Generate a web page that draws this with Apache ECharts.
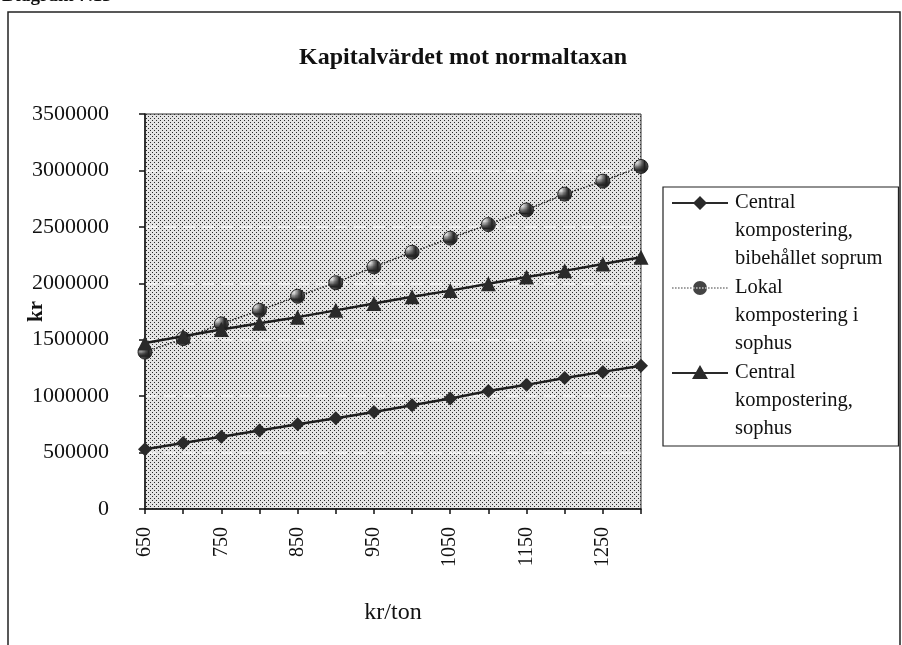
<!DOCTYPE html>
<html>
<head>
<meta charset="utf-8">
<script src="https://cdn.jsdelivr.net/npm/echarts@6/dist/echarts.min.js"></script>
<style>
  html, body { margin: 0; padding: 0; background: #fff; }
  #chart { width: 902px; height: 645px; }
</style>
</head>
<body>
<div id="chart"></div>
<script>
// kr/ton
var categories = ['650', '700', '750', '800', '850', '900', '950', '1000', '1050', '1100', '1150', '1200', '1250', '1300'];
// Central kompostering, bibehållet soprum
var centralSoprum = [530000, 585000, 640000, 695000, 750000, 805000, 860000, 920000, 980000, 1045000, 1100000, 1160000, 1215000, 1270000];
// Lokal kompostering i sophus
var lokalSophus = [1390000, 1510000, 1640000, 1760000, 1885000, 2005000, 2145000, 2275000, 2400000, 2520000, 2650000, 2790000, 2905000, 3035000];
// Central kompostering, sophus
var centralSophus = [1470000, 1530000, 1590000, 1645000, 1700000, 1760000, 1820000, 1880000, 1935000, 1995000, 2055000, 2110000, 2170000, 2230000];

var seriesNames = [
	'Central\nkompostering,\nbibehållet soprum',
	'Lokal\nkompostering i\nsophus',
	'Central\nkompostering,\nsophus'
];

var serif = '"Liberation Serif", "DejaVu Serif", serif';

// dotted halftone for the plot area
function makeDots() {
	var c = document.createElement('canvas');
	c.width = 4;
	c.height = 4;
	var ctx = c.getContext('2d');
	ctx.fillStyle = '#e4e4e4';
	ctx.fillRect(0, 0, 4, 4);
	ctx.fillStyle = '#2a2a2a';
	ctx.fillRect(0, 0, 1, 1);
	ctx.fillRect(2, 2, 1, 1);
	return c;
}

// cross hatch for the round markers
function makeHatch() {
	var c = document.createElement('canvas');
	c.width = 3;
	c.height = 3;
	var ctx = c.getContext('2d');
	ctx.fillStyle = '#d8d8d8';
	ctx.fillRect(0, 0, 3, 3);
	ctx.fillStyle = '#222';
	ctx.fillRect(0, 0, 3, 1);
	ctx.fillRect(0, 0, 1, 3);
	return c;
}

// legend icons: line + marker sit on the first text line (box 56 x 84)
var corners = 'M0 0 L0 0 M56 84 L56 84 ';
var solidLine = 'M0 13 H56 V15 H0 Z ';
var dotLine = '';
for (var d = 0; d < 56; d += 3) {
	dotLine += 'M' + d + ' 13.4 H' + (d + 1.6) + ' V14.6 H' + d + ' Z ';
}
var iconDiamond = 'path://' + corners + solidLine + 'M28 7 L35 14 L28 21 L21 14 Z';
var iconCircle = 'path://' + corners + dotLine + 'M21 14 A7 7 0 1 0 35 14 A7 7 0 1 0 21 14 Z';
var iconTriangle = 'path://' + corners + solidLine + 'M28 6 L36 20 L20 20 Z';

var hatch = { image: makeHatch(), repeat: 'repeat' };

var chart = echarts.init(document.getElementById('chart'));

var option = {
	backgroundColor: '#fff',
	animation: false,
	textStyle: {
		fontFamily: serif,
		color: '#111'
	},
	title: {
		text: 'Kapitalvärdet mot normaltaxan',
		left: 294,
		top: 41,
		textStyle: {
			fontFamily: serif,
			fontSize: 24,
			fontWeight: 'bold',
			color: '#111'
		}
	},
	graphic: [{
		type: 'text',
		left: 2,
		top: -13,
		style: {
			text: 'Diagram 7.13',
			font: 'bold 19px ' + serif,
			fill: '#111'
		}
	}, {
		type: 'rect',
		shape: { x: 8, y: 12, width: 892, height: 700 },
		style: { fill: 'none', stroke: '#222', lineWidth: 1.5 },
		z: -1
	}],
	legend: {
		orient: 'vertical',
		left: 663,
		top: 187,
		padding: [2, 16, 3, 9],
		borderColor: '#222',
		borderWidth: 1.2,
		backgroundColor: '#fff',
		itemWidth: 56,
		itemHeight: 84,
		itemGap: 1,
		selectedMode: false,
		textStyle: {
			fontFamily: serif,
			fontSize: 20.5,
			lineHeight: 28,
			color: '#111',
			padding: [0, 0, 0, 2]
		},
		data: [
			{ name: seriesNames[0], icon: iconDiamond, itemStyle: { borderWidth: 0 } },
			{ name: seriesNames[1], icon: iconCircle, itemStyle: { color: '#444', borderWidth: 0 } },
			{ name: seriesNames[2], icon: iconTriangle, itemStyle: { borderWidth: 0 } }
		]
	},
	grid: {
		left: 145,
		top: 114,
		right: 261,
		bottom: 136,
		show: true,
		backgroundColor: { image: makeDots(), repeat: 'repeat' },
		borderColor: '#333',
		borderWidth: 1
	},
	xAxis: {
		type: 'category',
		data: categories,
		boundaryGap: false,
		name: 'kr/ton',
		nameLocation: 'middle',
		nameGap: 92,
		nameTextStyle: {
			fontFamily: serif,
			fontSize: 24,
			color: '#111'
		},
		axisLine: { lineStyle: { color: '#111', width: 1.5 } },
		axisTick: {
			interval: 0,
			length: 5,
			lineStyle: { color: '#111', width: 1.5 }
		},
		axisLabel: {
			interval: 1,
			rotate: 90,
			margin: 18,
			fontFamily: serif,
			fontSize: 20,
			color: '#111'
		},
		splitLine: { show: false }
	},
	yAxis: {
		type: 'value',
		min: 0,
		max: 3500000,
		interval: 500000,
		name: 'kr',
		nameLocation: 'middle',
		nameRotate: 90,
		nameGap: 98,
		nameMoveOverlap: false,
		nameTextStyle: {
			fontFamily: serif,
			fontSize: 21,
			fontWeight: 'bold',
			color: '#111'
		},
		axisLine: { show: true, lineStyle: { color: '#111', width: 1.5 } },
		axisTick: {
			show: true,
			length: 6,
			lineStyle: { color: '#111', width: 1.5 }
		},
		axisLabel: {
			margin: 36,
			fontFamily: serif,
			fontSize: 22,
			color: '#111',
			formatter: function (v) { return String(v); }
		},
		splitLine: {
			show: true,
			showMinLine: false,
			showMaxLine: false,
			lineStyle: { color: '#fff', type: [12, 7], width: 1.5, opacity: 0.9 }
		}
	},
	series: [{
		name: seriesNames[0],
		type: 'line',
		data: centralSoprum,
		symbol: 'diamond',
		symbolSize: 14,
		lineStyle: { color: '#1e1e1e', width: 2.5 },
		itemStyle: { color: '#2a2a2a' },
		z: 3
	}, {
		name: seriesNames[1],
		type: 'line',
		data: lokalSophus,
		symbol: 'circle',
		symbolSize: 14,
		lineStyle: { color: '#222', width: 1.5, type: 'dotted' },
		itemStyle: { color: hatch, borderColor: '#222', borderWidth: 1 },
		z: 2
	}, {
		name: seriesNames[2],
		type: 'line',
		data: centralSophus,
		symbol: 'triangle',
		symbolSize: 15,
		lineStyle: { color: '#1e1e1e', width: 2.5 },
		itemStyle: { color: '#2a2a2a' },
		z: 4
	}]
};

chart.setOption(option);
</script>
</body>
</html>
